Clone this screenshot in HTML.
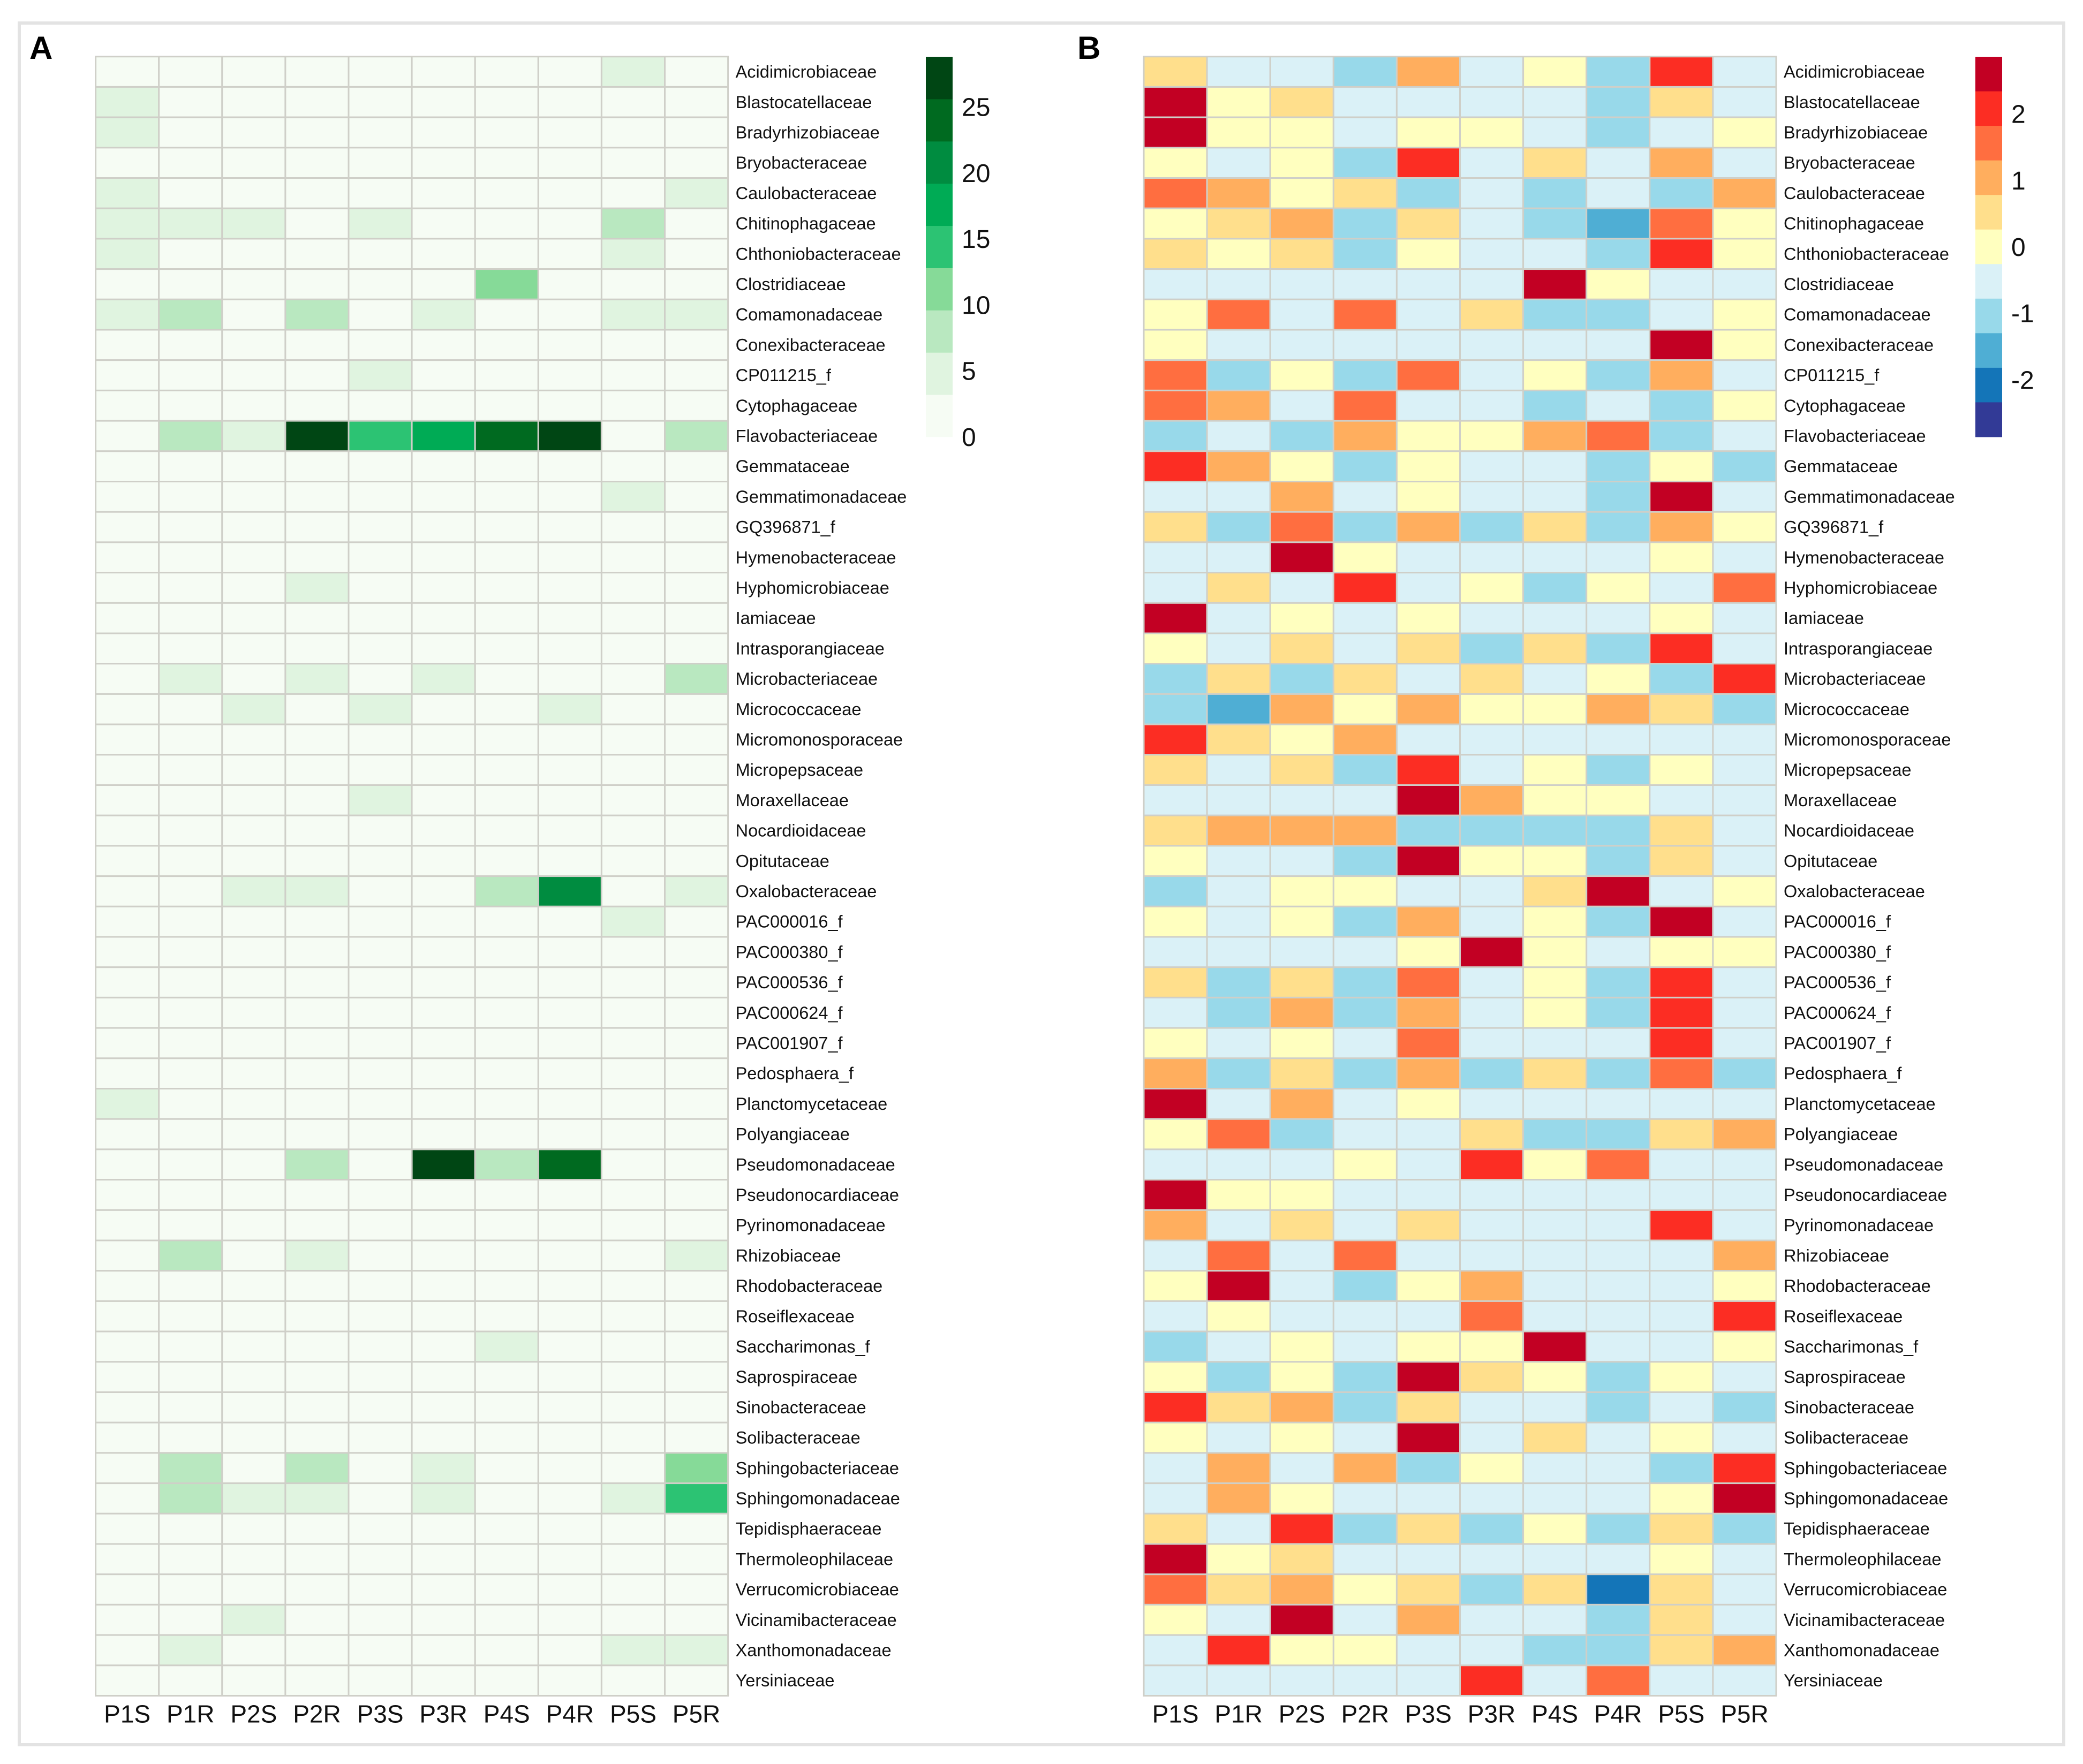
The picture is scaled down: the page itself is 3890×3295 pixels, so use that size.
<!DOCTYPE html>
<html><head><meta charset="utf-8"><style>
html,body{margin:0;padding:0;background:#fff}
svg{display:block;font-family:"Liberation Sans",Arial,sans-serif}
</style></head><body>
<svg id="chart" width="3890" height="3295" viewBox="0 0 3890 3295" xmlns="http://www.w3.org/2000/svg">
<rect x="36" y="43" width="3818" height="3216" fill="#fff" stroke="#e3e3e3" stroke-width="6"/>
<text x="55" y="110" font-size="60" font-weight="bold">A</text>
<text x="2012" y="110" font-size="60" font-weight="bold">B</text>
<g id="gA"></g>
<g id="gB"></g>
</svg>
<script>
const families = ["Acidimicrobiaceae","Blastocatellaceae","Bradyrhizobiaceae","Bryobacteraceae","Caulobacteraceae","Chitinophagaceae","Chthoniobacteraceae","Clostridiaceae","Comamonadaceae","Conexibacteraceae","CP011215_f","Cytophagaceae","Flavobacteriaceae","Gemmataceae","Gemmatimonadaceae","GQ396871_f","Hymenobacteraceae","Hyphomicrobiaceae","Iamiaceae","Intrasporangiaceae","Microbacteriaceae","Micrococcaceae","Micromonosporaceae","Micropepsaceae","Moraxellaceae","Nocardioidaceae","Opitutaceae","Oxalobacteraceae","PAC000016_f","PAC000380_f","PAC000536_f","PAC000624_f","PAC001907_f","Pedosphaera_f","Planctomycetaceae","Polyangiaceae","Pseudomonadaceae","Pseudonocardiaceae","Pyrinomonadaceae","Rhizobiaceae","Rhodobacteraceae","Roseiflexaceae","Saccharimonas_f","Saprospiraceae","Sinobacteraceae","Solibacteraceae","Sphingobacteriaceae","Sphingomonadaceae","Tepidisphaeraceae","Thermoleophilaceae","Verrucomicrobiaceae","Vicinamibacteraceae","Xanthomonadaceae","Yersiniaceae"];
const samples = ["P1S","P1R","P2S","P2R","P3S","P3R","P4S","P4R","P5S","P5R"];
const legendATicks = [0,5,10,15,20,25];
const legendBTicks = [-2,-1,0,1,2];
// Panel A: relative abundance (%)
const abundance = [
[1,1,1,1,1,1,1,1,4.5,1],
[4.5,1,1,1,1,1,1,1,1,1],
[4.5,1,1,1,1,1,1,1,1,1],
[1,1,1,1,1,1,1,1,1,1],
[4.5,1,1,1,1,1,1,1,1,4.5],
[4.5,4.5,4.5,1,4.5,1,1,1,8,1],
[4.5,1,1,1,1,1,1,1,4.5,1],
[1,1,1,1,1,1,11,1,1,1],
[4.5,8,1,8,1,4.5,1,1,4.5,4.5],
[1,1,1,1,1,1,1,1,1,1],
[1,1,1,1,4.5,1,1,1,1,1],
[1,1,1,1,1,1,1,1,1,1],
[1,8,4.5,27,14.5,17.5,24,27,1,8],
[1,1,1,1,1,1,1,1,1,1],
[1,1,1,1,1,1,1,1,4.5,1],
[1,1,1,1,1,1,1,1,1,1],
[1,1,1,1,1,1,1,1,1,1],
[1,1,1,4.5,1,1,1,1,1,1],
[1,1,1,1,1,1,1,1,1,1],
[1,1,1,1,1,1,1,1,1,1],
[1,4.5,1,4.5,1,4.5,1,1,1,8],
[1,1,4.5,1,4.5,1,1,4.5,1,1],
[1,1,1,1,1,1,1,1,1,1],
[1,1,1,1,1,1,1,1,1,1],
[1,1,1,1,4.5,1,1,1,1,1],
[1,1,1,1,1,1,1,1,1,1],
[1,1,1,1,1,1,1,1,1,1],
[1,1,4.5,4.5,1,1,8,21,1,4.5],
[1,1,1,1,1,1,1,1,4.5,1],
[1,1,1,1,1,1,1,1,1,1],
[1,1,1,1,1,1,1,1,1,1],
[1,1,1,1,1,1,1,1,1,1],
[1,1,1,1,1,1,1,1,1,1],
[1,1,1,1,1,1,1,1,1,1],
[4.5,1,1,1,1,1,1,1,1,1],
[1,1,1,1,1,1,1,1,1,1],
[1,1,1,8,1,27,8,24,1,1],
[1,1,1,1,1,1,1,1,1,1],
[1,1,1,1,1,1,1,1,1,1],
[1,8,1,4.5,1,1,1,1,1,4.5],
[1,1,1,1,1,1,1,1,1,1],
[1,1,1,1,1,1,1,1,1,1],
[1,1,1,1,1,1,4.5,1,1,1],
[1,1,1,1,1,1,1,1,1,1],
[1,1,1,1,1,1,1,1,1,1],
[1,1,1,1,1,1,1,1,1,1],
[1,8,1,8,1,4.5,1,1,1,11],
[1,8,4.5,4.5,1,4.5,1,1,4.5,14.5],
[1,1,1,1,1,1,1,1,1,1],
[1,1,1,1,1,1,1,1,1,1],
[1,1,1,1,1,1,1,1,1,1],
[1,1,4.5,1,1,1,1,1,1,1],
[1,4.5,1,1,1,1,1,1,4.5,4.5],
[1,1,1,1,1,1,1,1,1,1]];
// Panel B: row z-scores
const zscore = [
[0.5,-0.5,-0.5,-1,1,-0.5,0,-1,2.1,-0.5],
[2.6,0,0.5,-0.5,-0.5,-0.5,-0.5,-1,0.5,-0.5],
[2.6,0,0,-0.5,0,0,-0.5,-1,-0.5,0],
[0,-0.5,0,-1,2.1,-0.5,0.5,-0.5,1,-0.5],
[1.6,1,0,0.5,-1,-0.5,-1,-0.5,-1,1],
[0,0.5,1,-1,0.5,-0.5,-1,-1.6,1.6,0],
[0.5,0,0.5,-1,0,-0.5,-0.5,-1,2.1,0],
[-0.5,-0.5,-0.5,-0.5,-0.5,-0.5,2.6,0,-0.5,-0.5],
[0,1.6,-0.5,1.6,-0.5,0.5,-1,-1,-0.5,0],
[0,-0.5,-0.5,-0.5,-0.5,-0.5,-0.5,-0.5,2.6,0],
[1.6,-1,0,-1,1.6,-0.5,0,-1,1,-0.5],
[1.6,1,-0.5,1.6,-0.5,-0.5,-1,-0.5,-1,0],
[-1,-0.5,-1,1,0,0,1,1.6,-1,-0.5],
[2.1,1,0,-1,0,-0.5,-0.5,-1,0,-1],
[-0.5,-0.5,1,-0.5,0,-0.5,-0.5,-1,2.6,-0.5],
[0.5,-1,1.6,-1,1,-1,0.5,-1,1,0],
[-0.5,-0.5,2.6,0,-0.5,-0.5,-0.5,-0.5,0,-0.5],
[-0.5,0.5,-0.5,2.1,-0.5,0,-1,0,-0.5,1.6],
[2.6,-0.5,0,-0.5,0,-0.5,-0.5,-0.5,0,-0.5],
[0,-0.5,0.5,-0.5,0.5,-1,0.5,-1,2.1,-0.5],
[-1,0.5,-1,0.5,-0.5,0.5,-0.5,0,-1,2.1],
[-1,-1.6,1,0,1,0,0,1,0.5,-1],
[2.1,0.5,0,1,-0.5,-0.5,-0.5,-0.5,-0.5,-0.5],
[0.5,-0.5,0.5,-1,2.1,-0.5,0,-1,0,-0.5],
[-0.5,-0.5,-0.5,-0.5,2.6,1,0,0,-0.5,-0.5],
[0.5,1,1,1,-1,-1,-1,-1,0.5,-0.5],
[0,-0.5,-0.5,-1,2.6,0,0,-1,0.5,-0.5],
[-1,-0.5,0,0,-0.5,-0.5,0.5,2.6,-0.5,0],
[0,-0.5,0,-1,1,-0.5,0,-1,2.6,-0.5],
[-0.5,-0.5,-0.5,-0.5,0,2.6,0,-0.5,0,0],
[0.5,-1,0.5,-1,1.6,-0.5,0,-1,2.1,-0.5],
[-0.5,-1,1,-1,1,-0.5,0,-1,2.1,-0.5],
[0,-0.5,0,-0.5,1.6,-0.5,-0.5,-0.5,2.1,-0.5],
[1,-1,0.5,-1,1,-1,0.5,-1,1.6,-1],
[2.6,-0.5,1,-0.5,0,-0.5,-0.5,-0.5,-0.5,-0.5],
[0,1.6,-1,-0.5,-0.5,0.5,-1,-1,0.5,1],
[-0.5,-0.5,-0.5,0,-0.5,2.1,0,1.6,-0.5,-0.5],
[2.6,0,0,-0.5,-0.5,-0.5,-0.5,-0.5,-0.5,-0.5],
[1,-0.5,0.5,-0.5,0.5,-0.5,-0.5,-0.5,2.1,-0.5],
[-0.5,1.6,-0.5,1.6,-0.5,-0.5,-0.5,-0.5,-0.5,1],
[0,2.6,-0.5,-1,0,1,-0.5,-0.5,-0.5,0],
[-0.5,0,-0.5,-0.5,-0.5,1.6,-0.5,-0.5,-0.5,2.1],
[-1,-0.5,0,-0.5,0,0,2.6,-0.5,-0.5,0],
[0,-1,0,-1,2.6,0.5,0,-1,0,-0.5],
[2.1,0.5,1,-1,0.5,-0.5,-0.5,-1,-0.5,-1],
[0,-0.5,0,-0.5,2.6,-0.5,0.5,-0.5,0,-0.5],
[-0.5,1,-0.5,1,-1,0,-0.5,-0.5,-1,2.1],
[-0.5,1,0,-0.5,-0.5,-0.5,-0.5,-0.5,0,2.6],
[0.5,-0.5,2.1,-1,0.5,-1,0,-1,0.5,-1],
[2.6,0,0.5,-0.5,-0.5,-0.5,-0.5,-0.5,0,-0.5],
[1.6,0.5,1,0,0.5,-1,0.5,-2.1,0.5,-0.5],
[0,-0.5,2.6,-0.5,1,-0.5,-0.5,-1,0.5,-0.5],
[-0.5,2.1,0,0,-0.5,-0.5,-1,-1,0.5,1],
[-0.5,-0.5,-0.5,-0.5,-0.5,2.1,-0.5,1.6,-0.5,-0.5]];

const NS="http://www.w3.org/2000/svg";
function mk(tag,attrs,parent){const e=document.createElementNS(NS,tag);for(const k in attrs)e.setAttribute(k,attrs[k]);parent.appendChild(e);return e;}
const greens=["#F6FCF4","#E0F4E0","#B9E8C0","#86DA98","#2CC373","#00AB55","#008C40","#006A20","#004614"];
const greenMax=28.8;
function colA(v){let i=Math.floor(v/(greenMax/9));i=Math.max(0,Math.min(8,i));return greens[i];}
const rdylbu=["#C20023","#FC2D23","#FF6E40","#FFAE5E","#FFDF8C","#FFFFBF","#DAF1F7","#98D9EA","#4FAED4","#1475B8","#323A96"];
const zMax=2.86;
function colB(v){let i=Math.floor((zMax-v)/(2*zMax/11));i=Math.max(0,Math.min(10,i));return rdylbu[i];}

const cellW=118.1, cellH=56.7, y0=105.7;
const nR=families.length;
const H=cellH*nR;
function xScale(x0,j){return x0+j*cellW;}
function yScale(i){return y0+i*cellH;}

function drawPanel(g,x0,data,colorFn,prefix){
  for(let i=0;i<data.length;i++){
    for(let j=0;j<data[i].length;j++){
      const r=mk('rect',{x:xScale(x0,j),y:yScale(i),width:cellW,height:cellH,fill:colorFn(data[i][j]),stroke:"#cfcfc8","stroke-width":3},g);
      
      
    }
  }
  for(let i=0;i<nR;i++){
    const t=mk('text',{x:x0+10*cellW+14,y:yScale(i)+cellH/2+11,"font-size":32.5,fill:"#111"},g);
    t.textContent=families[i];
    
    
  }
  for(let j=0;j<samples.length;j++){
    const t=mk('text',{x:xScale(x0,j)+cellW/2,y:y0+H+50,"font-size":46,"text-anchor":"middle",fill:"#111"},g);
    t.textContent=samples[j];
    
    
  }
}
const gA=document.getElementById('gA'), gB=document.getElementById('gB');
drawPanel(gA,178.6,abundance,colA,'a');
drawPanel(gB,2136,zscore,colB,'b');

// Legend A
const lgTop=106, lgBot=816, lgH=lgBot-lgTop;
const legA=mk('g',{},gA);


for(let k=0;k<9;k++){
  const r=mk('rect',{x:1729,y:lgBot-(k+1)*lgH/9,width:50,height:lgH/9+0.5,fill:greens[k]},legA);
  
  
}
legendATicks.forEach(v=>{
  const y=lgBot-v/greenMax*lgH;
  const t=mk('text',{x:1796,y:y+17,"font-size":48,fill:"#111"},legA);
  t.textContent=v;
  
  
});
// Legend B
const legB=mk('g',{},gB);


for(let k=0;k<11;k++){
  const r=mk('rect',{x:3689,y:lgTop+k*lgH/11,width:50,height:lgH/11+0.5,fill:rdylbu[k]},legB);
  
  
}
legendBTicks.forEach(v=>{
  const y=lgTop+(zMax-v)/(2*zMax)*lgH;
  const t=mk('text',{x:3756,y:y+17,"font-size":48,fill:"#111"},legB);
  t.textContent=v;
  
  
});
</script>
</body></html>
